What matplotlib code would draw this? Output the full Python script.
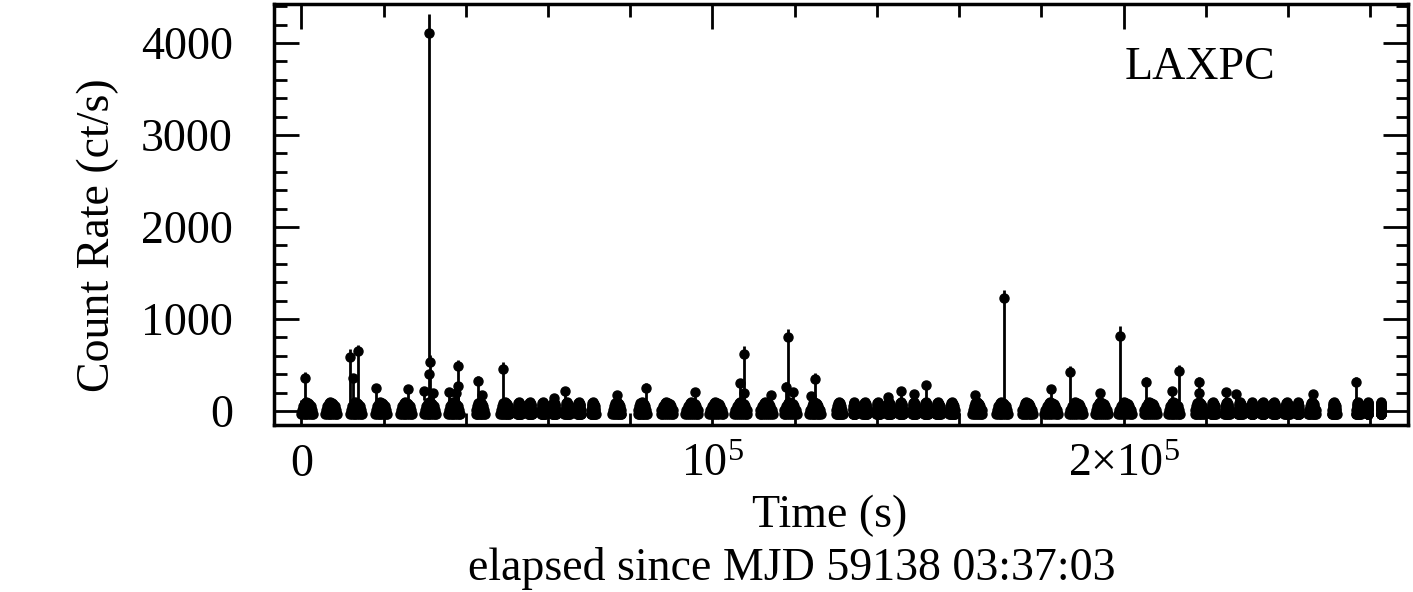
import numpy as np
import matplotlib
matplotlib.use("Agg")
import matplotlib.pyplot as plt
from matplotlib.ticker import MultipleLocator

plt.rcParams['font.family'] = ['Liberation Serif', 'DejaVu Serif']
plt.rcParams['mathtext.fontset'] = 'custom'
plt.rcParams['mathtext.rm'] = 'Liberation Serif'
plt.rcParams['mathtext.it'] = 'Liberation Serif:italic'

# ---- data: orbit segments (quiescent level) ----
seg_center = [1340, 7180, 13260, 19340, 25430, 31270, 37110, 43440, 49510, 52920,
              55600, 58760, 61440, 64600, 67520, 70930, 76760, 82850, 88930, 95010,
              100850, 106930, 113020, 118860, 124940, 130780, 134430, 137100, 140270, 142950,
              145870, 149030, 151950, 154870, 158280, 164360, 170440, 176530, 182370, 188450,
              194530, 200370, 206450, 212290, 218370, 221780, 225180, 228350, 231270, 233940,
              236620, 239780, 242460, 245870, 251220, 257060, 259490, 262650]
seg_span = [2920, 2920, 2920, 2920, 2920, 2920, 2920, 2190, 2190, 970,
            970, 970, 970, 1220, 970, 1220, 2190, 2190, 3160, 3160,
            3400, 3160, 3160, 3160, 2680, 1700, 490, 1220, 970, 970,
            970, 970, 970, 1220, 1460, 2430, 2920, 2680, 3400, 3400,
            3160, 3400, 3160, 2920, 2190, 1220, 1220, 1220, 490, 730,
            970, 1220, 490, 1950, 1220, 1220, 0, 240]
# typical in-segment light-curve profile (relative position, rate, error)
prof_pos = [-1.0, -0.7, -0.4, -0.1, 0.2, 0.5, 0.8, 1.0,
            -0.85, -0.55, -0.25, 0.05, 0.35, 0.65, 0.9,
            -0.6, -0.3, 0.0, 0.3, 0.6,
            -0.35, -0.1, 0.15, 0.4]
prof_rate = [-30, -30, -30, -30, -30, -30, -30, -30,
             15, 20, 20, 20, 20, 20, 10,
             55, 60, 65, 60, 50,
             85, 95, 92, 80]
prof_err = [40, 40, 40, 40, 40, 40, 40, 40,
            40, 40, 40, 40, 40, 40, 40,
            40, 40, 40, 40, 40,
            40, 40, 40, 40]

# ---- data: flaring bins ----
spike_t = [970, 11730, 12450, 13750, 18200, 25990, 29800, 31090, 31190, 31000, 32000,
           38080, 38000, 36000, 37600, 43020, 43800, 49100, 61500, 64110, 76690, 83740,
           95740, 107590, 106700, 107590, 118440, 118000, 119700, 114230, 124930, 123900,
           142620, 145860, 148960, 151940, 163790, 171040, 182430, 187050, 194350, 199070,
           205540, 211790, 213430, 218300, 218300, 224860, 227440, 246100, 256630]
spike_rate = [362, 590, 360, 650, 247, 235, 215, 4110, 530, 397, 200,
              490, 270, 210, 200, 330, 175, 457, 140, 220, 175, 253,
              210, 620, 300, 200, 800, 265, 210, 175, 348, 165,
              155, 215, 180, 283, 170, 1228, 235, 420, 192, 815,
              320, 217, 435, 320, 192, 203, 180, 180, 312]
spike_lo = [260, 490, 250, 550, 150, 130, 100, 3580, 430, 290, 90,
            390, 170, 100, 90, 230, 70, 360, 40, 120, 70, 150,
            100, 520, 200, 100, 700, 160, 100, 70, 250, 60,
            50, 110, 80, 180, 70, 1130, 130, 320, 90, 720,
            220, 110, 330, 220, 90, 100, 80, 80, 210]
spike_hi = [62, 85, 40, 70, 40, 40, 35, 210, 80, 50, 35,
            65, 45, 35, 35, 55, 35, 80, 30, 35, 30, 55,
            35, 87, 50, 35, 95, 45, 35, 35, 60, 35,
            30, 35, 35, 43, 30, 90, 40, 70, 35, 110,
            53, 35, 65, 53, 35, 35, 35, 35, 60]

# ---- figure ----
W, H = 1413, 592
fig = plt.figure(figsize=(W / 100, H / 100), dpi=100)
ax = fig.add_axes([274 / W, 1 - 425 / H, (1408 - 274) / W, (425 - 4) / H])

bt, br, be = [], [], []
for c, s in zip(seg_center, seg_span):
    for p, r, e in zip(prof_pos, prof_rate, prof_err):
        bt.append(c + p * s / 2.0)
        br.append(r)
        be.append(e)
ax.errorbar(bt, br, yerr=be, fmt='o', color='k', ms=6.5, elinewidth=2, capsize=0)
ax.errorbar(spike_t, spike_rate, yerr=[spike_lo, spike_hi], fmt='o', color='k',
            ms=6.5, elinewidth=2, capsize=0)

ax.set_xlim(-6690, 269220)
ax.set_ylim(-152, 4424)

ax.set_xticks([0, 1e5, 2e5], ['0', r'$10^{5}$', r'$2{\times}10^{5}$'], va='baseline')
ax.xaxis.set_minor_locator(MultipleLocator(20000))
ax.set_yticks([0, 1000, 2000, 3000, 4000])
ax.yaxis.set_minor_locator(MultipleLocator(200))

ax.tick_params(which='both', direction='in', top=True, right=True, width=2, labelsize=33)
ax.tick_params(which='major', length=18)
ax.tick_params(which='minor', length=9)
ax.tick_params(axis='y', pad=29.5)
ax.tick_params(axis='x', pad=37)
for sp in ax.spines.values():
    sp.set_linewidth(2.5)

fig.text(98 / W, 1 - 235 / H, 'Count Rate (ct/s)', rotation=90, ha='center', va='center', fontsize=33)
fig.text(830 / W, 1 - 527 / H, 'Time (s)', ha='center', va='baseline', fontsize=33)
fig.text(792 / W, 1 - 580 / H, 'elapsed since MJD 59138 03:37:03', ha='center', va='baseline', fontsize=33)
fig.text(1200 / W, 1 - 79 / H, 'LAXPC', ha='center', va='baseline', fontsize=33)

fig.savefig('out.png', dpi=100)
